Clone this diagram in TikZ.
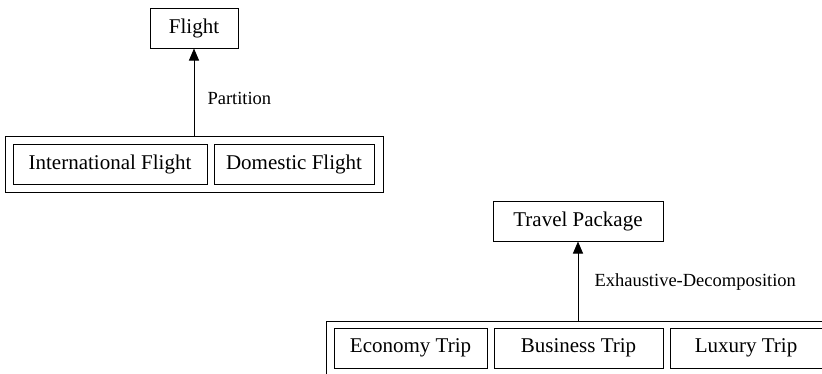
\documentclass[tikz,border=0pt]{standalone}
\usepackage{fontspec}
\setmainfont{Liberation Serif}
\usetikzlibrary{arrows.meta}
\begin{document}
\begin{tikzpicture}[x=1pt,y=-1pt,
  concept/.style={draw,line width=1pt,inner sep=0pt,minimum height=40pt,
    font=\fontsize{21}{25}\selectfont},
  group/.style={draw,line width=1pt,inner sep=0pt,minimum height=56pt},
  rel/.style={line width=1pt,-{Triangle[length=12pt,width=10pt]}},
  rellabel/.style={inner sep=0pt,font=\fontsize{18.5}{22}\selectfont}]
\clip (0,0) rectangle (822,373);
\fill[white] (0,0) rectangle (822,373);

% Flight partition
\node[concept,minimum width=88pt] (flight) at (194,28) {Flight};
\node[group,minimum width=378pt] (fgroup) at (194,164) {};
\node[concept,minimum width=194pt] (intl) at (110,164) {International Flight};
\node[concept,minimum width=160pt] (dom) at (294,164) {Domestic Flight};
\draw[rel] (fgroup.north) -- node[rellabel,pos=0.43,right,xshift=13pt] {Partition} (flight.south);

% Travel package decomposition
\node[concept,minimum width=170pt] (travel) at (578,221) {Travel Package};
\node[group,minimum width=504pt] (tgroup) at (578,349) {};
\node[concept,minimum width=153pt] (eco) at (410.5,348) {Economy Trip};
\node[concept,minimum width=169pt] (bus) at (578.5,348) {Business Trip};
\node[concept,minimum width=152pt] (lux) at (746,348) {Luxury Trip};
\draw[rel] (tgroup.north) -- node[rellabel,pos=0.49,right,xshift=16pt] {Exhaustive-Decomposition} (travel.south);
\end{tikzpicture}
\end{document}
